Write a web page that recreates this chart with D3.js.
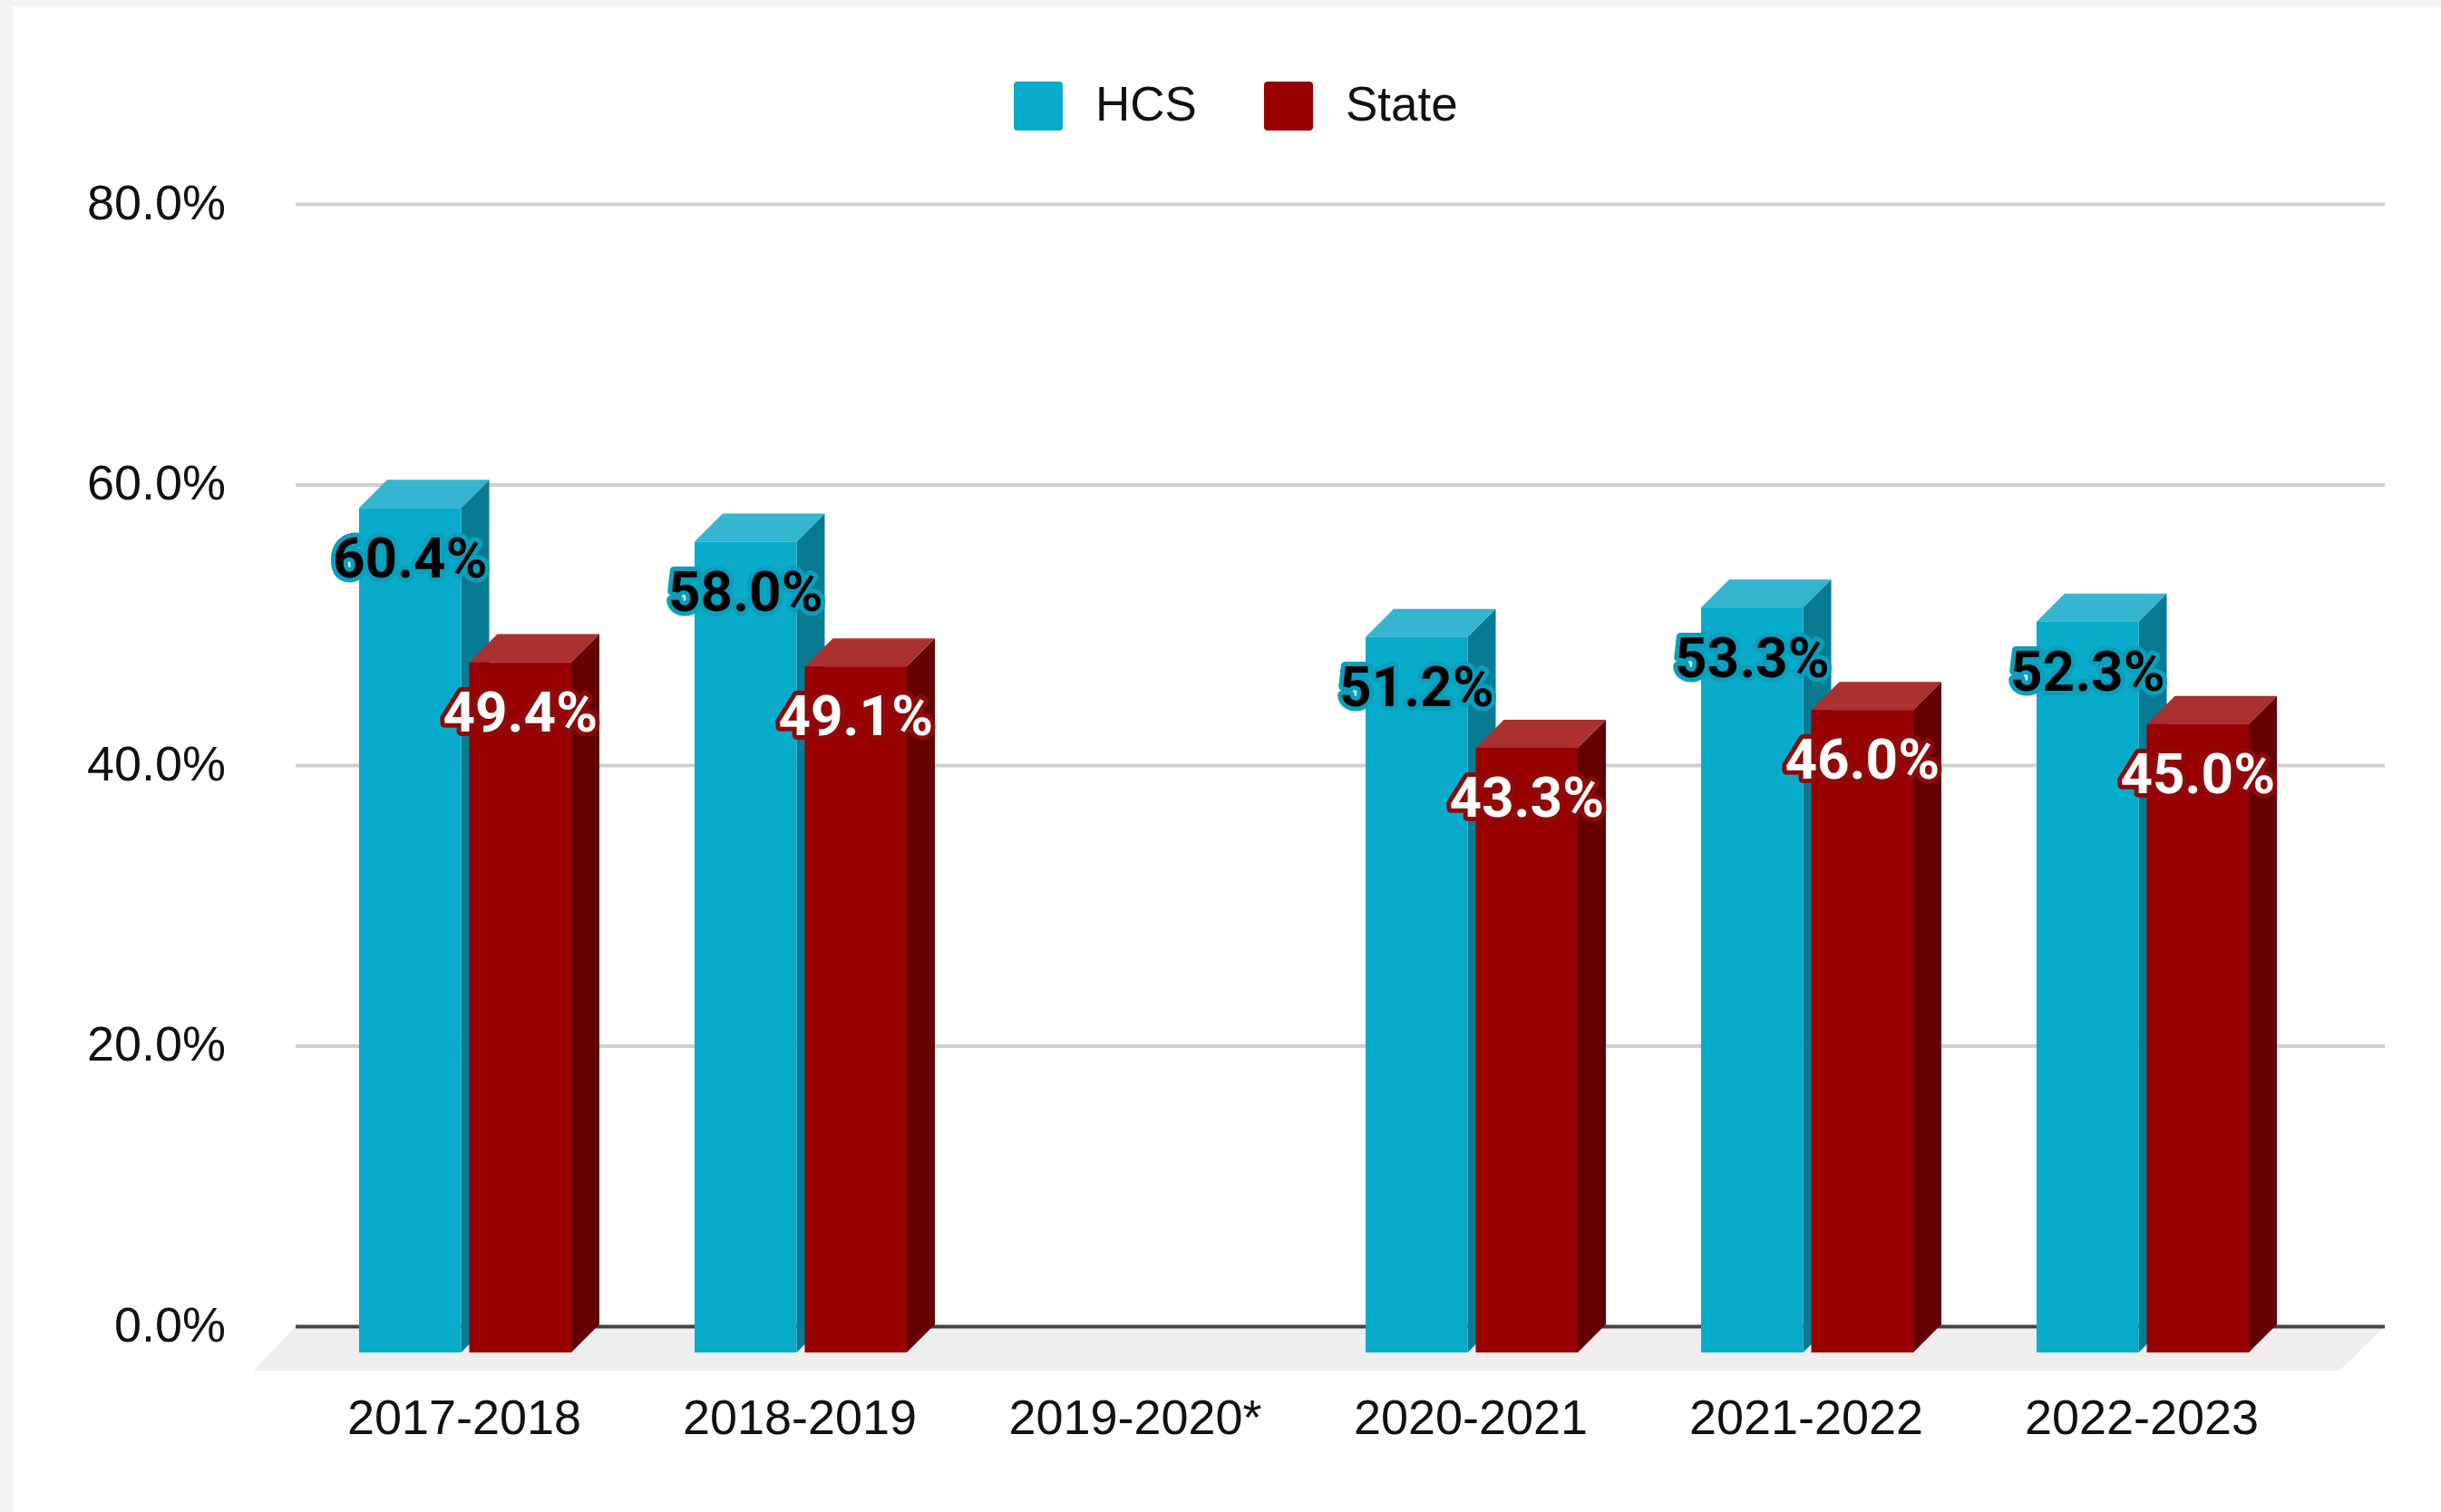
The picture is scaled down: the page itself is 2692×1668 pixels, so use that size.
<!DOCTYPE html>
<html><head><meta charset="utf-8">
<script src="https://cdn.jsdelivr.net/npm/d3@7"></script>
<style>html,body{margin:0;padding:0;background:#f4f4f4;overflow:hidden}svg{display:block}</style>
</head><body><svg id="c" width="2692" height="1668"></svg>
<script>
const categories = ["2017-2018","2018-2019","2019-2020*","2020-2021","2021-2022","2022-2023"];
const hcsValues = [60.4,58.0,null,51.2,53.3,52.3];
const stateValues = [49.4,49.1,null,43.3,46.0,45.0];
const seriesNames = ["HCS","State"];
const yTicks = [0,20,40,60,80];
const faces = {HCS:{front:"#08abc9",side:"#087b93",top:"#35b5cf",halo:"#08a0bd",text:"#000"},
               State:{front:"#990000",side:"#640000",top:"#ab3030",halo:"#8f0a0a",text:"#fff"}};
const svg = d3.select("#c");
svg.append("rect").attr("x",14).attr("y",7).attr("width",2678).attr("height",1661).attr("fill","#fff");
const depth = 31, y0 = 1463;
const y = d3.scaleLinear().domain([0,80]).range([y0,225]);
const x = d3.scaleBand().domain(categories).range([329,2549]);
const xs = d3.scaleBand().domain(seriesNames).range([67,301]).paddingInner(0.074);
const poly = pts => "M"+pts.map(p=>p.join(",")).join("L")+"Z";

// floor
svg.append("path").attr("fill","#eeeeee")
  .attr("d",poly([[326,y0],[2630,y0],[2580,1512],[280,1512]]));

// gridlines + y axis
const axisFont = "'Liberation Sans',Arial,sans-serif";
const gy = svg.append("g").attr("transform","translate(326,0)")
  .call(d3.axisLeft(y).tickValues(yTicks).tickFormat(d=>d.toFixed(1)+"%").tickSize(-2304).tickPadding(77));
gy.select(".domain").remove();
gy.selectAll(".tick line").attr("stroke",d=>d===0?"#444":"#cfcfcf").attr("stroke-width",d=>d===0?4:4);
gy.selectAll(".tick text").attr("font-family",axisFont).attr("font-size",54).attr("fill","#111")
  .attr("dy",null).attr("y",16);

// x axis labels
const gx = svg.append("g").attr("transform",`translate(-2,${y0})`)
  .call(d3.axisBottom(x).tickSize(0).tickPadding(0));
gx.select(".domain").remove();
gx.selectAll(".tick text").attr("font-family",axisFont).attr("font-size",54).attr("fill","#111")
  .attr("dy",null).attr("y",119);

// bars
const rows = [];
categories.forEach((c,i)=>{
  [["HCS",hcsValues[i]],["State",stateValues[i]]].forEach(([s,v])=>{
    if(v!==null) rows.push({c,s,v});
  });
});
const barBase = y(0)+depth-2;
const bars = svg.append("g").selectAll("g").data(rows).join("g");
bars.each(function(d){
  const g = d3.select(this), f = faces[d.s];
  const l = x(d.c)+xs(d.s), r = l+xs.bandwidth();
  const t = y(d.v)+depth+1, dd = depth;
  g.append("path").attr("fill",f.side).attr("d",poly([[r,t],[r+dd,t-dd],[r+dd,barBase-dd],[r,barBase]]));
  g.append("path").attr("fill",f.top).attr("d",poly([[l,t],[l+dd,t-dd],[r+dd,t-dd],[r,t]]));
  g.append("rect").attr("fill",f.front).attr("x",l).attr("y",t).attr("width",xs.bandwidth()).attr("height",barBase-t);
});

// data labels (drawn over every bar)
svg.append("g").selectAll("text").data(rows).join("text")
  .attr("x",d=>x(d.c)+xs(d.s)+xs.bandwidth()/2)
  .attr("y",d=>y(d.v)+86)
  .attr("dy","0.36em")
  .attr("text-anchor","middle")
  .attr("font-family","Roboto,sans-serif").attr("font-weight",700).attr("font-size",62)
  .attr("fill",d=>faces[d.s].text)
  .attr("stroke",d=>faces[d.s].halo).attr("stroke-width",10).attr("stroke-linejoin","round")
  .attr("paint-order","stroke")
  .text(d=>d.v.toFixed(1)+"%");

// legend
const legendX = d3.scaleOrdinal().domain(seriesNames).range([1118,1394]);
const lg = svg.append("g").selectAll("g").data(seriesNames).join("g")
  .attr("transform",d=>`translate(${legendX(d)},90)`);
lg.append("rect").attr("width",54).attr("height",54).attr("rx",4).attr("fill",d=>faces[d].front);
lg.append("text").attr("x",90).attr("y",43).attr("font-family",axisFont).attr("font-size",53).attr("fill","#111").text(d=>d);
</script></body></html>
